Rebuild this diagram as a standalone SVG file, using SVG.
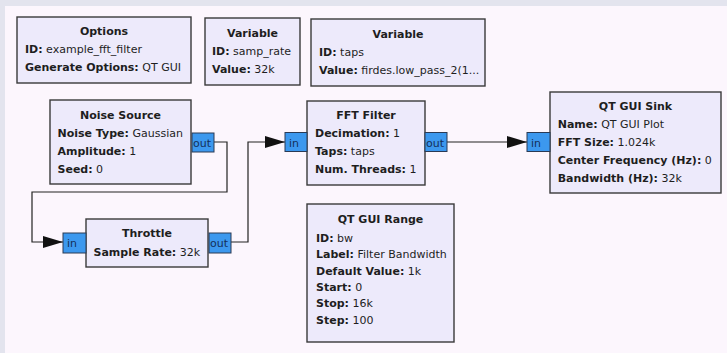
<svg xmlns="http://www.w3.org/2000/svg" width="727" height="353" viewBox="0 0 727 353">
  <style>
    .blk { fill: #edeafb; stroke: #3a3a3a; stroke-width: 1.4; }
    .port { fill: #3c98ee; stroke: #2a3a55; stroke-width: 1; }
    text { font-family: "DejaVu Sans", "Liberation Sans", sans-serif; font-size: 11px; fill: #1e1e1e; }
    .title { font-weight: bold; text-anchor: middle; }
    .k { font-weight: bold; }
    .plabel { fill: #14305a; }
    .wire { fill: none; stroke: #222; stroke-width: 1.2; }
  </style>
  <defs>
    <marker id="arrow" viewBox="0 0 20 12" refX="20" refY="6" markerWidth="20" markerHeight="12" markerUnits="userSpaceOnUse" orient="auto">
      <path d="M0,0 L20,6 L0,12 Z" fill="#111"/>
    </marker>
  </defs>

  <!-- window frame and canvas -->
  <rect x="0" y="0" width="727" height="353" fill="#e3e4ee"/>
  <rect x="5" y="6" width="722" height="347" fill="#fcf6fd"/>

  <!-- connectors -->
  <g id="connectors">
    <polyline class="wire" points="214,142 227,142 227,192 32,192 32,242 63,242" marker-end="url(#arrow)"/>
    <polyline class="wire" points="231,242 248,242 248,142 285,142" marker-end="url(#arrow)"/>
    <polyline class="wire" points="447,142 527,142" marker-end="url(#arrow)"/>
  </g>

  <g id="options">
    <rect class="blk" x="17" y="17" width="174" height="66"/>
    <text class="title" x="104" y="35">Options</text>
    <text x="25" y="53"><tspan class="k">ID:</tspan> example_fft_filter</text>
    <text x="25" y="71"><tspan class="k">Generate Options:</tspan> QT GUI</text>
  </g>

  <g id="variable_samp_rate">
    <rect class="blk" x="205" y="18" width="95" height="67"/>
    <text class="title" x="252.5" y="37">Variable</text>
    <text x="212" y="55"><tspan class="k">ID:</tspan> samp_rate</text>
    <text x="212" y="73"><tspan class="k">Value:</tspan> 32k</text>
  </g>

  <g id="variable_taps">
    <rect class="blk" x="311" y="19" width="174" height="67"/>
    <text class="title" x="398" y="38">Variable</text>
    <text x="319" y="56"><tspan class="k">ID:</tspan> taps</text>
    <text x="319" y="74"><tspan class="k">Value:</tspan> firdes.low_pass_2(1...</text>
  </g>

  <g id="noise_source">
    <rect class="blk" x="50" y="100" width="141" height="84"/>
    <text class="title" x="120.5" y="119">Noise Source</text>
    <text x="57.5" y="137"><tspan class="k">Noise Type:</tspan> Gaussian</text>
    <text x="57.5" y="155"><tspan class="k">Amplitude:</tspan> 1</text>
    <text x="57.5" y="173"><tspan class="k">Seed:</tspan> 0</text>
    <rect class="port" x="192" y="133" width="22" height="19"/>
    <text class="plabel" x="193" y="146.5">out</text>
  </g>

  <g id="throttle">
    <rect class="blk" x="86" y="219" width="122" height="48"/>
    <text class="title" x="147" y="237">Throttle</text>
    <text x="93.5" y="255.5"><tspan class="k">Sample Rate:</tspan> 32k</text>
    <rect class="port" x="63" y="233" width="23" height="20"/>
    <text class="plabel" x="67" y="247">in</text>
    <rect class="port" x="209" y="233" width="22" height="20"/>
    <text class="plabel" x="210" y="247">out</text>
  </g>

  <g id="fft_filter">
    <rect class="blk" x="307" y="101" width="118" height="84"/>
    <text class="title" x="366" y="119">FFT Filter</text>
    <text x="315" y="137"><tspan class="k">Decimation:</tspan> 1</text>
    <text x="315" y="155"><tspan class="k">Taps:</tspan> taps</text>
    <text x="315" y="173"><tspan class="k">Num. Threads:</tspan> 1</text>
    <rect class="port" x="285" y="132.5" width="22" height="19"/>
    <text class="plabel" x="289" y="146.5">in</text>
    <rect class="port" x="425" y="132.5" width="22" height="19"/>
    <text class="plabel" x="426" y="146.5">out</text>
  </g>

  <g id="qt_gui_sink">
    <rect class="blk" x="550" y="92" width="171" height="101"/>
    <text class="title" x="635.5" y="109.7">QT GUI Sink</text>
    <text x="557.7" y="127.7"><tspan class="k">Name:</tspan> QT GUI Plot</text>
    <text x="557.7" y="145.7"><tspan class="k">FFT Size:</tspan> 1.024k</text>
    <text x="557.7" y="163.7"><tspan class="k">Center Frequency (Hz):</tspan> 0</text>
    <text x="557.7" y="181.7"><tspan class="k">Bandwidth (Hz):</tspan> 32k</text>
    <rect class="port" x="527" y="132.5" width="23" height="19"/>
    <text class="plabel" x="531" y="146.5">in</text>
  </g>

  <g id="qt_gui_range">
    <rect class="blk" x="307" y="204" width="147" height="138"/>
    <text class="title" x="380.5" y="223">QT GUI Range</text>
    <text x="316" y="242"><tspan class="k">ID:</tspan> bw</text>
    <text x="316" y="258.3"><tspan class="k">Label:</tspan> Filter Bandwidth</text>
    <text x="316" y="274.6"><tspan class="k">Default Value:</tspan> 1k</text>
    <text x="316" y="290.9"><tspan class="k">Start:</tspan> 0</text>
    <text x="316" y="307.2"><tspan class="k">Stop:</tspan> 16k</text>
    <text x="316" y="323.5"><tspan class="k">Step:</tspan> 100</text>
  </g>
</svg>
